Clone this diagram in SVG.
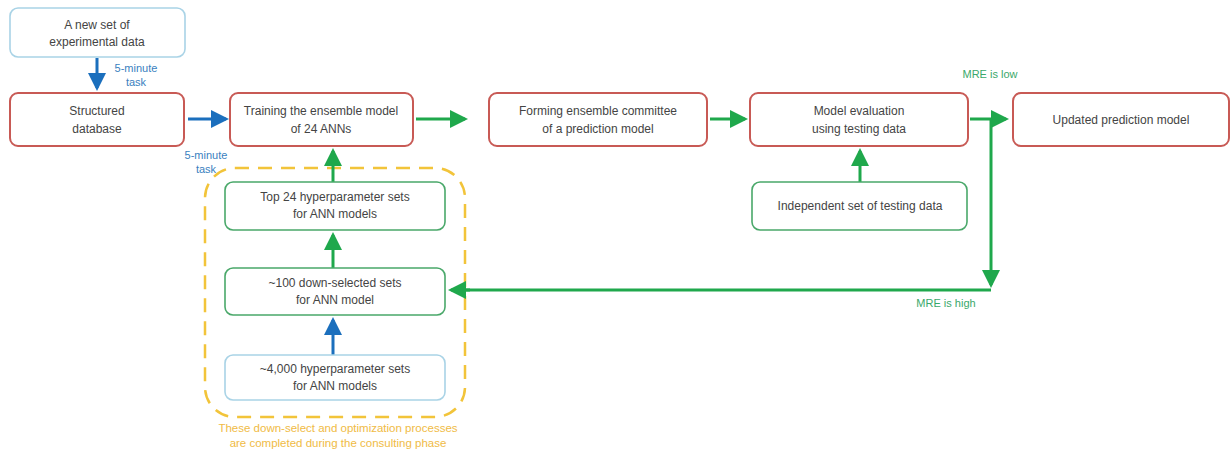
<svg xmlns="http://www.w3.org/2000/svg" width="1231" height="457" viewBox="0 0 1231 457">
<defs>
<style>
.t{font-family:"Liberation Sans",Arial,sans-serif;font-size:12px;fill:#444;text-anchor:middle}
.red{fill:#fff;stroke:#c85a55;stroke-width:2}
.grn{fill:#fff;stroke:#4aa86a;stroke-width:1.6}
.lb{fill:#fff;stroke:#a9d3e6;stroke-width:1.6}
.ga{stroke:#1fa84c;stroke-width:3;fill:none}
.ba{stroke:#1b6fbd;stroke-width:3;fill:none}
.bl{font-family:"Liberation Sans",Arial,sans-serif;font-size:11px;fill:#3a7fc0;text-anchor:middle}
.gl{font-family:"Liberation Sans",Arial,sans-serif;font-size:11px;fill:#3aa86a;text-anchor:middle}
.yl{font-family:"Liberation Sans",Arial,sans-serif;font-size:11.5px;fill:#f0bb45;text-anchor:middle}
</style>
<marker id="mg" markerWidth="6" markerHeight="6" refX="5" refY="3" orient="auto" markerUnits="strokeWidth"><path d="M0,0 L6,3 L0,6 z" fill="#1fa84c"/></marker>
<marker id="mb" markerWidth="6" markerHeight="6" refX="5" refY="3" orient="auto" markerUnits="strokeWidth"><path d="M0,0 L6,3 L0,6 z" fill="#1b6fbd"/></marker>
</defs>
<rect width="1231" height="457" fill="#fff"/>
<g id="consulting-phase">
<rect x="205" y="168" width="260" height="249" rx="30" fill="none" stroke="#f2c43a" stroke-width="2.5" stroke-dasharray="14,9"/>
<text class="yl" x="338" y="432">These down-select and optimization processes</text>
<text class="yl" x="338" y="447">are completed during the consulting phase</text>
</g>
<g id="connectors">
<line class="ba" x1="97" y1="58" x2="97" y2="88" marker-end="url(#mb)"/>
<line class="ba" x1="188" y1="119" x2="226" y2="119" marker-end="url(#mb)"/>
<line class="ga" x1="416" y1="119" x2="465" y2="119" marker-end="url(#mg)"/>
<line class="ga" x1="710" y1="119" x2="745" y2="119" marker-end="url(#mg)"/>
<line class="ga" x1="970" y1="119" x2="1006" y2="119" marker-end="url(#mg)"/>
<line class="ga" x1="991" y1="119" x2="991" y2="285" marker-end="url(#mg)"/>
<polyline class="ga" points="991,290 460,290"/>
<line class="ga" x1="470" y1="290" x2="451" y2="290" marker-end="url(#mg)"/>
<line class="ga" x1="860" y1="182" x2="860" y2="151" marker-end="url(#mg)"/>
<line class="ga" x1="333" y1="182" x2="333" y2="151" marker-end="url(#mg)"/>
<line class="ga" x1="333" y1="268" x2="333" y2="235" marker-end="url(#mg)"/>
<line class="ba" x1="333" y1="355" x2="333" y2="320" marker-end="url(#mb)"/>
<text class="bl" x="136" y="72">5-minute</text>
<text class="bl" x="136" y="86">task</text>
<text class="bl" x="206" y="159">5-minute</text>
<text class="bl" x="206" y="173">task</text>
<text class="gl" x="990" y="78">MRE is low</text>
<text class="gl" x="946" y="307">MRE is high</text>
</g>
<g id="n-newdata"><rect class="lb" x="10" y="8" width="175" height="49" rx="8"/><text class="t" x="97" y="29">A new set of</text><text class="t" x="97" y="46">experimental data</text></g>
<g id="n-structured"><rect class="red" x="10" y="93" width="174" height="53" rx="8"/><text class="t" x="97" y="115">Structured</text><text class="t" x="97" y="133">database</text></g>
<g id="n-training"><rect class="red" x="230" y="93" width="183" height="53" rx="8"/><text class="t" x="321" y="115">Training the ensemble model</text><text class="t" x="321" y="133">of 24 ANNs</text></g>
<g id="n-forming"><rect class="red" x="489" y="93" width="218" height="53" rx="8"/><text class="t" x="598" y="115">Forming ensemble committee</text><text class="t" x="598" y="133">of a prediction model</text></g>
<g id="n-eval"><rect class="red" x="750" y="93" width="218" height="53" rx="8"/><text class="t" x="859" y="115">Model evaluation</text><text class="t" x="859" y="133">using testing data</text></g>
<g id="n-updated"><rect class="red" x="1013" y="93" width="216" height="53" rx="8"/><text class="t" x="1121" y="124">Updated prediction model</text></g>
<g id="n-independent"><rect class="grn" x="752" y="182" width="215" height="48" rx="8"/><text class="t" x="860" y="210">Independent set of testing data</text></g>
<g id="n-top24"><rect class="grn" x="225" y="182" width="220" height="48" rx="8"/><text class="t" x="335" y="201">Top 24 hyperparameter sets</text><text class="t" x="335" y="218">for ANN models</text></g>
<g id="n-100"><rect class="grn" x="225" y="268" width="220" height="47" rx="8"/><text class="t" x="335" y="287">~100 down-selected sets</text><text class="t" x="335" y="304">for ANN model</text></g>
<g id="n-4000"><rect class="lb" x="225" y="355" width="220" height="45" rx="8"/><text class="t" x="335" y="373">~4,000 hyperparameter sets</text><text class="t" x="335" y="390">for ANN models</text></g>
</svg>
